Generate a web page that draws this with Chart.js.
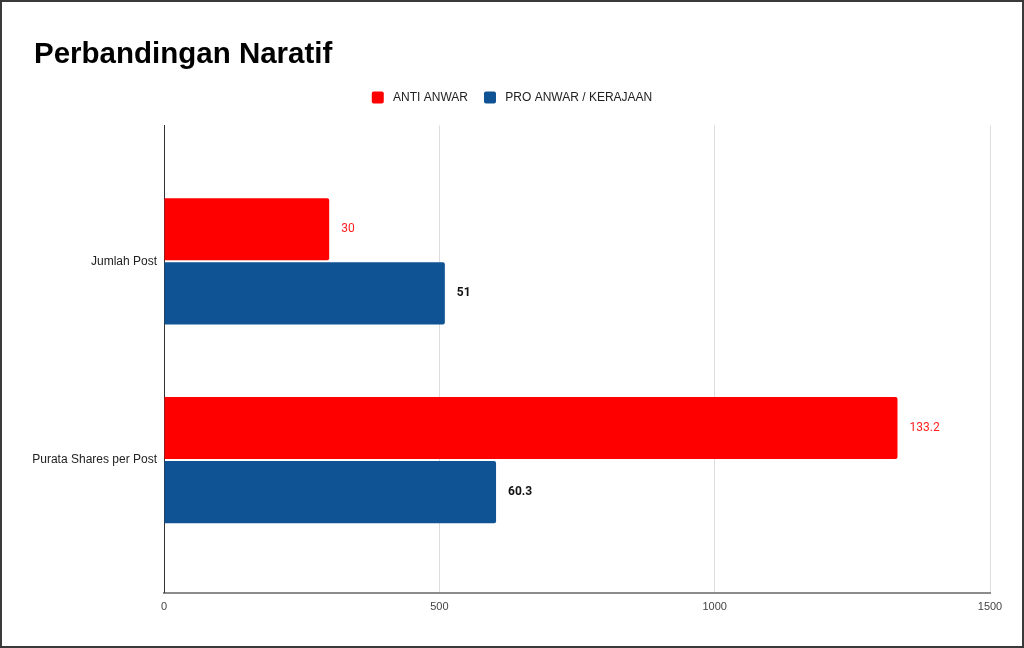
<!DOCTYPE html>
<html>
<head>
<meta charset="utf-8">
<script src="https://cdn.jsdelivr.net/npm/chart.js@4"></script>
<style>
    body { margin: 0; background: #fff; }
    .frame { width: 1024px; height: 648px; box-sizing: border-box; border: 2px solid #3a3a3a; background: #fff; }
    canvas { display: block; }
</style>
</head>
<body>
<div class="frame"><canvas id="chart" width="1020" height="644"></canvas></div>
<script>
// Datos del gráfico
const categories = ['Jumlah Post', 'Purata Shares per Post'];
const seriesNames = ['ANTI ANWAR', 'PRO ANWAR / KERAJAAN'];
const antiValues = [300, 1332];
const proValues = [510, 603];
const antiLabels = ['30', '133.2'];
const proLabels = ['51', '60.3'];
const xTicks = [0, 500, 1000, 1500];

const colors = ['#ff0000', '#0f5394'];
const fontFamily = '"Liberation Sans", Arial, sans-serif';

/**
 * Etiquetas de valor al final de cada barra
 */
const valueLabels = {
    id: 'valueLabels',
    afterDatasetsDraw(chart) {
        const ctx = chart.ctx;
        const styles = [
            { labels: antiLabels, color: '#ff2020', weight: 'normal' },
            { labels: proLabels, color: '#111', weight: 'bold' }
        ];
        ctx.save();
        ctx.textBaseline = 'middle';
        ctx.textAlign = 'left';
        styles.forEach((s, di) => {
            chart.getDatasetMeta(di).data.forEach((bar, i) => {
                ctx.font = `${s.weight} 12px Roboto, ${fontFamily}`;
                ctx.fillStyle = s.color;
                ctx.fillText(s.labels[i], bar.x + 12, bar.y);
            });
        });
        ctx.restore();
    }
};

// Espacio extra bajo la leyenda, título alineado a la izquierda
const layoutTweaks = {
    id: 'layoutTweaks',
    beforeInit(chart) {
        const fit = chart.legend.fit;
        chart.legend.fit = function () {
            fit.bind(chart.legend)();
            this.height += 12;
        };
    },
    afterLayout(chart) {
        chart.titleBlock.left += 12;
        chart.titleBlock.right += 12;
        chart.legend.left += 6;
        chart.legend.right += 6;
    }
};

const toPoints = values => values.map((v, i) => ({ x: v, y: i }));

new Chart(document.getElementById('chart'), {
    type: 'bar',
    data: {
        datasets: [
            {
                label: seriesNames[0],
                data: toPoints(antiValues),
                backgroundColor: colors[0],
                borderRadius: 2,
                borderSkipped: 'start'
            },
            {
                label: seriesNames[1],
                data: toPoints(proValues),
                backgroundColor: colors[1],
                borderRadius: 2,
                borderSkipped: 'start'
            }
        ]
    },
    options: {
        responsive: false,
        animation: false,
        indexAxis: 'y',
        categoryPercentage: 0.645,
        barPercentage: 0.97,
        layout: { padding: { left: 20, right: 32, top: 0, bottom: 24 } },
        plugins: {
            title: {
                display: true,
                text: 'Perbandingan Naratif',
                align: 'start',
                color: '#000',
                font: { family: fontFamily, size: 29.5, weight: 'bold' },
                padding: { top: 35, bottom: 3 }
            },
            legend: {
                position: 'top',
                labels: {
                    color: '#222',
                    font: { family: fontFamily, size: 12 },
                    boxWidth: 12,
                    boxHeight: 12,
                    padding: 16,
                    useBorderRadius: true,
                    borderRadius: 2,
                    // espacio estrecho entre el cuadro y el texto
                    generateLabels: chart => Chart.defaults.plugins.legend.labels.generateLabels(chart)
                        .map(item => ({ ...item, text: ' ' + item.text }))
                }
            },
            tooltip: { enabled: false }
        },
        scales: {
            x: {
                type: 'linear',
                min: 0,
                max: 1500,
                afterBuildTicks: scale => { scale.ticks = xTicks.map(v => ({ value: v })); },
                grid: {
                    color: ctx => ctx.tick && ctx.tick.value === 0 ? 'rgba(0,0,0,0)' : '#dcdcdc',
                    drawTicks: false
                },
                border: { color: '#8c8c8c', width: 2 },
                ticks: {
                    color: '#444',
                    font: { family: fontFamily, size: 11 },
                    padding: 8,
                    callback: value => String(value)
                }
            },
            y: {
                type: 'linear',
                reverse: true,
                offset: false,
                min: -0.684,
                max: 1.668,
                afterBuildTicks: scale => { scale.ticks = categories.map((c, i) => ({ value: i })); },
                afterFit: scale => { scale.width = 142; },
                grid: { display: false, drawTicks: false },
                border: { color: '#333', width: 1 },
                ticks: {
                    color: '#222',
                    font: { family: fontFamily, size: 12 },
                    padding: 7,
                    callback: value => categories[value] ?? ''
                }
            }
        }
    },
    plugins: [valueLabels, layoutTweaks]
});
</script>
</body>
</html>
